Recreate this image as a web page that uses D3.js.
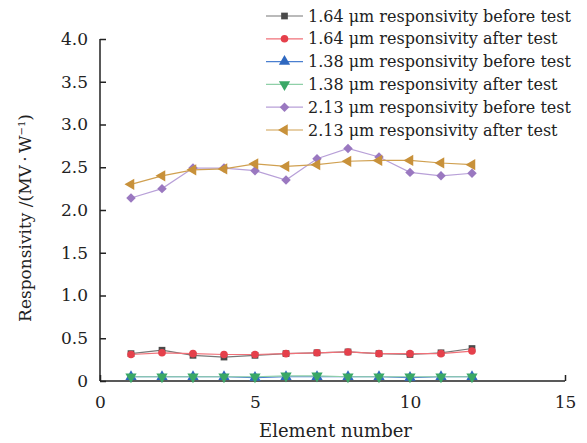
<!DOCTYPE html>
<html>
<head>
<meta charset="utf-8">
<script src="https://cdnjs.cloudflare.com/ajax/libs/d3/7.8.5/d3.min.js"></script>
<style>
  body { margin: 0; background: #fff; }
  text { font-family: "DejaVu Serif", serif; fill: #222; }
</style>
</head>
<body>
<div id="vis"></div>
<script>
var elements = [1, 2, 3, 4, 5, 6, 7, 8, 9, 10, 11, 12];
var r164Before = [0.32, 0.36, 0.30, 0.28, 0.30, 0.32, 0.33, 0.34, 0.32, 0.31, 0.33, 0.38];
var r164After  = [0.31, 0.33, 0.32, 0.31, 0.31, 0.32, 0.33, 0.34, 0.32, 0.32, 0.32, 0.35];
var r138Before = [0.05, 0.05, 0.05, 0.05, 0.04, 0.05, 0.05, 0.05, 0.05, 0.04, 0.05, 0.05];
var r138After  = [0.05, 0.05, 0.05, 0.05, 0.05, 0.06, 0.06, 0.05, 0.05, 0.05, 0.05, 0.05];
var r213Before = [2.14, 2.25, 2.49, 2.49, 2.46, 2.35, 2.60, 2.72, 2.62, 2.44, 2.40, 2.43];
var r213After  = [2.30, 2.40, 2.47, 2.48, 2.54, 2.51, 2.53, 2.57, 2.58, 2.58, 2.55, 2.53];
var xTicks = [0, 5, 10, 15];
var yTicks = [0, 0.5, 1.0, 1.5, 2.0, 2.5, 3.0, 3.5, 4.0];

var series = [
  { name: "1.64 \u03bcm responsivity before test", values: r164Before, color: "#4a4a4a", line: "#777", shape: d3.symbolSquare, rot: 0 },
  { name: "1.64 \u03bcm responsivity after test", values: r164After, color: "#e5404b", line: "#f07078", shape: d3.symbolCircle, rot: 0 },
  { name: "1.38 \u03bcm responsivity before test", values: r138Before, color: "#2f68c0", line: "#4a7fd0", shape: d3.symbolTriangle, rot: 0 },
  { name: "1.38 \u03bcm responsivity after test", values: r138After, color: "#3aa866", line: "#8fd0a8", shape: d3.symbolTriangle, rot: 180 },
  { name: "2.13 \u03bcm responsivity before test", values: r213Before, color: "#9a78c0", line: "#b8a0d8", shape: d3.symbolSquare, rot: 45 },
  { name: "2.13 \u03bcm responsivity after test", values: r213After, color: "#c8913a", line: "#d0a050", shape: d3.symbolTriangle, rot: -90 }
];

var W = 587, H = 443;
var svg = d3.select("#vis").append("svg").attr("width", W).attr("height", H);

var x = d3.scaleLinear().domain([0, 15]).range([100, 565]);
var y = d3.scaleLinear().domain([0, 4]).range([381, 39]);

// axes, ticks inward
var xAxis = svg.append("g").attr("transform", "translate(0," + y(0) + ")")
  .call(d3.axisBottom(x).tickValues(xTicks).tickSize(-6).tickPadding(15).tickFormat(d3.format("d")));
var yAxis = svg.append("g").attr("transform", "translate(" + x(0) + ",0)")
  .call(d3.axisLeft(y).tickValues(yTicks).tickSize(-6).tickPadding(12)
    .tickFormat(function(d) { return d === 0 ? "0" : d3.format(".1f")(d); }));
[xAxis, yAxis].forEach(function(g) {
  g.select(".domain").attr("stroke", "#222").attr("stroke-width", 1.5);
  g.selectAll(".tick line").attr("stroke", "#222").attr("stroke-width", 1.5);
  g.selectAll(".tick text").style("font-family", "DejaVu Serif, serif").style("font-size", "17px").attr("fill", "#222");
});
xAxis.select(".domain").attr("d", "M" + x(0) + ",0H" + x(15));
yAxis.select(".domain").attr("d", "M0," + y(0) + "V" + y(4));

svg.append("text").attr("x", (x(0) + x(15)) / 2 + 3).attr("y", 437)
  .attr("text-anchor", "middle").style("font-size", "18px").text("Element number");
svg.append("text").attr("transform", "translate(31," + (y(2) + 8) + ") rotate(-90)")
  .attr("text-anchor", "middle").style("font-size", "17px")
  .html("Responsivity /(MV\u2009\u00b7\u2009W<tspan dy='-6' font-size='10px'>\u22121</tspan><tspan dy='6'>)</tspan>");

var line = d3.line().x(function(d, i) { return x(elements[i]); }).y(function(d) { return y(d); });

series.forEach(function(s) {
  svg.append("path").datum(s.values).attr("d", line)
    .attr("fill", "none").attr("stroke", s.line).attr("stroke-width", 1.2);
  svg.selectAll(null).data(s.values).enter().append("path")
    .attr("d", d3.symbol().type(s.shape).size(s.shape === d3.symbolTriangle ? 55 : 45))
    .attr("transform", function(d, i) { return "translate(" + x(elements[i]) + "," + y(d) + ") rotate(" + s.rot + ")"; })
    .attr("fill", s.color);
});

// legend
var legend = svg.append("g");
series.forEach(function(s, i) {
  var ly = 16 + i * 22.8;
  legend.append("line").attr("x1", 266).attr("x2", 303).attr("y1", ly).attr("y2", ly)
    .attr("stroke", s.line).attr("stroke-width", 1.2);
  legend.append("path")
    .attr("d", d3.symbol().type(s.shape).size(s.shape === d3.symbolTriangle ? 55 : 45))
    .attr("transform", "translate(284.5," + ly + ") rotate(" + s.rot + ")")
    .attr("fill", s.color);
  legend.append("text").attr("x", 308).attr("y", ly + 5.5)
    .style("font-size", "16px").text(s.name);
});
</script>
</body>
</html>
